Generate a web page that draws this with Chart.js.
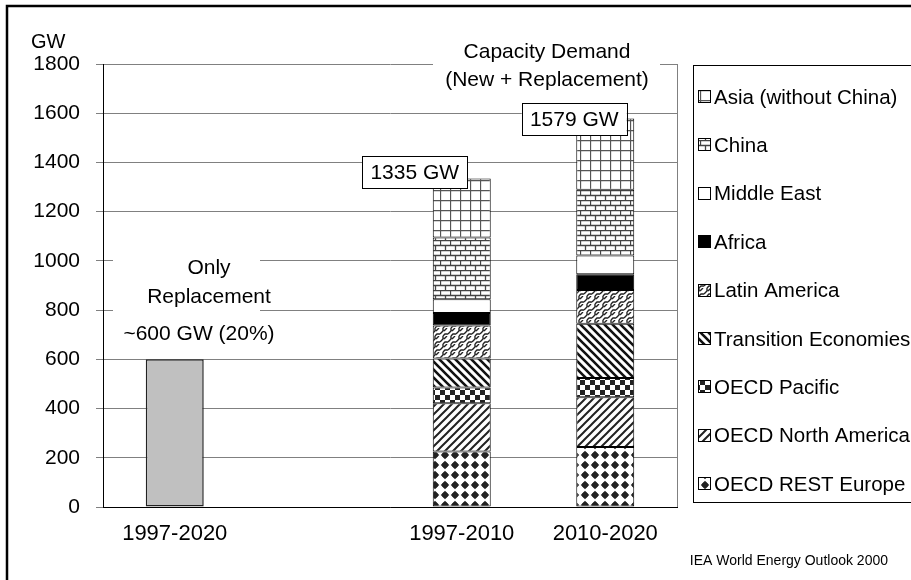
<!DOCTYPE html>
<html>
<head>
<meta charset="utf-8">
<script src="https://cdn.jsdelivr.net/npm/chart.js@4/dist/chart.umd.min.js"></script>
<style>
  html, body { margin: 0; padding: 0; background: #fff; overflow: hidden; }
  #wrap { width: 911px; height: 580px; }
</style>
</head>
<body>
<div id="wrap"><canvas id="capacity_chart" width="911" height="580"></canvas></div>
<script>
// categories (the empty one is the gap between the two groups)
var categories = ['1997-2020', '', '1997-2010', '2010-2020'];
var yTicks = [0, 200, 400, 600, 800, 1000, 1200, 1400, 1600, 1800];

// GW per region
var replacement    = [600, null, null, null];
var oecdEurope     = [null, null, 226, 244];
var oecdNorthAm    = [null, null, 196, 202];
var oecdPacific    = [null, null, 64, 78];
var transition     = [null, null, 117, 221];
var latinAmerica   = [null, null, 134, 137];
var africa         = [null, null, 51, 64];
var middleEast     = [null, null, 56, 76];
var china          = [null, null, 251, 267];
var asia           = [null, null, 240, 290];
var totalLabels    = [null, null, '1335 GW', '1579 GW'];

var FONT = '"Liberation Sans", Arial, sans-serif';

function makePattern(w, h, draw) {
    var c = document.createElement('canvas');
    c.width = w; c.height = h;
    var g = c.getContext('2d');
    g.fillStyle = '#fff';
    g.fillRect(0, 0, w, h);
    draw(g);
    return c.getContext('2d').createPattern(c, 'repeat');
}

var pGrid = makePattern(10, 10, function(g) {
    g.strokeStyle = '#555'; g.lineWidth = 1.3;
    g.beginPath();
    g.moveTo(0.5, 0); g.lineTo(0.5, 10);
    g.moveTo(0, 0.5); g.lineTo(10, 0.5);
    g.stroke();
});
var pBrick = makePattern(10, 10, function(g) {
    g.strokeStyle = '#444'; g.lineWidth = 1.3;
    g.beginPath();
    g.moveTo(0, 0.5); g.lineTo(10, 0.5);
    g.moveTo(0, 5.5); g.lineTo(10, 5.5);
    g.moveTo(0.5, 0); g.lineTo(0.5, 5);
    g.moveTo(5.5, 5); g.lineTo(5.5, 10);
    g.stroke();
});
var pWave = makePattern(8, 8, function(g) {
    g.strokeStyle = '#222'; g.lineWidth = 1.4;
    g.beginPath();
    g.moveTo(0, 6); g.lineTo(3, 3); g.lineTo(3, 0);
    g.moveTo(3, 8); g.lineTo(5, 6); g.lineTo(8, 6);
    g.moveTo(4, 3); g.lineTo(7, 0);
    g.stroke();
});
var pBack = makePattern(8, 8, function(g) {
    g.strokeStyle = '#111'; g.lineWidth = 2.6;
    g.beginPath();
    g.moveTo(-2, -2); g.lineTo(10, 10);
    g.moveTo(-2, 6); g.lineTo(2, 10);
    g.moveTo(6, -2); g.lineTo(10, 2);
    g.stroke();
});
var pFwd = makePattern(8, 8, function(g) {
    g.strokeStyle = '#222'; g.lineWidth = 2;
    g.beginPath();
    g.moveTo(-2, 10); g.lineTo(10, -2);
    g.moveTo(-2, 2); g.lineTo(2, -2);
    g.moveTo(6, 10); g.lineTo(10, 6);
    g.stroke();
});
var pCheck = makePattern(10, 10, function(g) {
    g.fillStyle = '#222';
    g.fillRect(0, 0, 5, 5);
    g.fillRect(5, 5, 5, 5);
});
var pDots = makePattern(10, 10, function(g) {
    g.fillStyle = '#222';
    g.beginPath();
    g.arc(5, 5, 2.8, 0, Math.PI * 2);
    g.fill();
    g.beginPath();
    g.moveTo(5, 0.8); g.lineTo(9.2, 5); g.lineTo(5, 9.2); g.lineTo(0.8, 5);
    g.closePath();
    g.fill();
});

function ds(label, data, bg) {
    return { label: label, data: data, backgroundColor: bg, borderColor: '#000', borderWidth: 1, borderSkipped: false };
}

var datasets = [
    { label: 'Only Replacement', data: replacement, backgroundColor: '#c0c0c0', borderColor: '#222', borderWidth: 1.5, borderSkipped: false, inLegend: false },
    ds('OECD REST Europe', oecdEurope, pDots),
    ds('OECD North America', oecdNorthAm, pFwd),
    ds('OECD Pacific', oecdPacific, pCheck),
    ds('Transition Economies', transition, pBack),
    ds('Latin America', latinAmerica, pWave),
    ds('Africa', africa, '#000'),
    ds('Middle East', middleEast, '#fff'),
    ds('China', china, pBrick),
    ds('Asia (without China)', asia, pGrid)
];

function textBox(ctx, text, cx, cy, w, h) {
    ctx.fillStyle = '#fff';
    ctx.fillRect(cx - w / 2, cy - h / 2, w, h);
    ctx.strokeStyle = '#000';
    ctx.lineWidth = 1;
    ctx.strokeRect(Math.round(cx - w / 2) + 0.5, Math.round(cy - h / 2) + 0.5, w, h);
    ctx.fillStyle = '#000';
    ctx.textAlign = 'center';
    ctx.textBaseline = 'middle';
    ctx.fillText(text, cx, cy + 1);
}

var decorations = {
    id: 'decorations',
    beforeDraw: function(chart) {
        var ctx = chart.ctx;
        ctx.save();
        ctx.fillStyle = '#fff';
        ctx.fillRect(0, 0, chart.width, chart.height);
        ctx.restore();
    },
    afterDraw: function(chart) {
        var ctx = chart.ctx;
        var area = chart.chartArea;
        var x = chart.scales.x, y = chart.scales.y;
        ctx.save();

        // outer frame
        ctx.strokeStyle = '#000';
        ctx.lineWidth = 2.5;
        ctx.strokeRect(7, 6, 1000, 700);

        // plot right border
        ctx.strokeStyle = '#808080';
        ctx.lineWidth = 1;
        ctx.beginPath();
        ctx.moveTo(Math.round(area.right) + 0.5, area.top);
        ctx.lineTo(Math.round(area.right) + 0.5, area.bottom);
        ctx.stroke();

        ctx.font = '20px ' + FONT;
        ctx.fillStyle = '#000';
        ctx.textAlign = 'left';
        ctx.textBaseline = 'middle';
        ctx.fillText('GW', 31, 42);

        // "Only Replacement" note
        ctx.fillStyle = '#fff';
        ctx.fillRect(113, 248, 147, 98);
        ctx.fillStyle = '#000';
        ctx.font = '21px ' + FONT;
        ctx.textAlign = 'center';
        ctx.fillText('Only', 209, 268);
        ctx.fillText('Replacement', 209, 297);
        ctx.fillText('~600 GW (20%)', 199, 334);

        // "Capacity Demand" note
        ctx.fillStyle = '#fff';
        ctx.fillRect(433, 36, 227, 58);
        ctx.fillStyle = '#000';
        ctx.fillText('Capacity Demand', 547, 52);
        ctx.fillText('(New + Replacement)', 547, 80);

        // total boxes
        var offsets = [null, null, [-47, -6], [-31, 1]];
        totalLabels.forEach(function(t, i) {
            if (!t) return;
            var sum = 0;
            datasets.forEach(function(d) { sum += d.data[i] || 0; });
            var px = x.getPixelForValue(i) + offsets[i][0];
            var py = y.getPixelForValue(sum) + offsets[i][1];
            textBox(ctx, t, px, py, 105, 32);
        });

        // legend box
        ctx.strokeStyle = '#000';
        ctx.lineWidth = 1;
        ctx.strokeRect(693.5, 65.5, 400, 437);
        ctx.font = '20.5px ' + FONT;
        ctx.textAlign = 'left';
        var items = datasets.filter(function(d) { return d.inLegend !== false; }).reverse();
        items.forEach(function(d, k) {
            var cy = 97 + k * 48.4;
            ctx.fillStyle = d.backgroundColor;
            ctx.fillRect(698, Math.round(cy - 7), 13, 13);
            ctx.strokeStyle = '#000';
            ctx.strokeRect(698.5, Math.round(cy - 7) + 0.5, 12, 12);
            ctx.fillStyle = '#000';
            ctx.fillText(d.label, 714, cy + 1);
        });

        // source
        ctx.font = '14px ' + FONT;
        ctx.textAlign = 'right';
        ctx.fillText('IEA World Energy Outlook 2000', 888, 561);
        ctx.restore();
    }
};

var ctx = document.getElementById('capacity_chart');
var chart = new Chart(ctx, {
    type: 'bar',
    data: { labels: categories, datasets: datasets },
    options: {
        responsive: false,
        animation: false,
        events: [],
        layout: { padding: { left: 0, right: 234, top: 64, bottom: 0 } },
        datasets: { bar: { categoryPercentage: 1, barPercentage: 0.404 } },
        plugins: { legend: { display: false }, tooltip: { enabled: false } },
        scales: {
            x: {
                stacked: true,
                grid: { display: false },
                border: { display: true, color: '#000', width: 1 },
                ticks: { color: '#000', font: { family: FONT, size: 22 }, padding: 6, maxRotation: 0 },
                afterFit: function(s) { s.height = 73; }
            },
            y: {
                stacked: true,
                min: 0,
                max: 1800,
                afterBuildTicks: function(s) { s.ticks = yTicks.map(function(v) { return { value: v }; }); },
                grid: { color: '#808080', lineWidth: 1, tickLength: 7 },
                border: { display: true, color: '#000', width: 1 },
                ticks: {
                    color: '#000',
                    font: { family: FONT, size: 21 },
                    padding: 16,
                    callback: function(v) { return String(v); }
                },
                afterFit: function(s) { s.width = 103; }
            }
        }
    },
    plugins: [decorations]
});
</script>
</body>
</html>
